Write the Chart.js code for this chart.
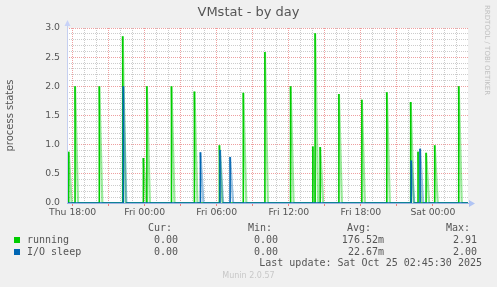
<!DOCTYPE html>
<html>
<head>
<meta charset="utf-8">
<script src="https://cdn.jsdelivr.net/npm/chart.js@4/dist/chart.umd.min.js"></script>
<style>
  body { margin: 0; background: #f0f0f0; }
  #wrap { position: relative; width: 497px; height: 287px; overflow: hidden; }
  canvas { position: absolute; left: 0; top: 0; }
  .t { position: absolute; white-space: pre; font-family: "DejaVu Sans Mono", monospace; font-size: 10px; line-height: 12px; color: #555; }
  .sq { position: absolute; width: 6px; height: 6px; }
  #title { position: absolute; left: 0; width: 497px; top: 4px; text-align: center; font-family: "DejaVu Sans", sans-serif; font-size: 13px; color: #555; }
  #rrd { position: absolute; left: 483px; top: 5px; writing-mode: vertical-rl; font-family: "DejaVu Sans", sans-serif; font-size: 7px; color: #c0c0c0; }
  #munin { position: absolute; left: 0; width: 497px; top: 271px; text-align: center; font-family: "DejaVu Sans", sans-serif; font-size: 8px; color: #c8c8c8; }
</style>
</head>
<body>
<div id="wrap">
  <canvas id="chart" width="497" height="287"></canvas>
  <div id="title">VMstat - by day</div>
  <div id="rrd">RRDTOOL / TOBI OETIKER</div>

  <div class="t" style="right:325px;top:222px">Cur:</div>
  <div class="t" style="right:225px;top:222px">Min:</div>
  <div class="t" style="right:126px;top:222px">Avg:</div>
  <div class="t" style="right:27px;top:222px">Max:</div>

  <div class="sq" style="left:14px;top:237px;background:#00cc00"></div>
  <div class="t" style="left:27px;top:234px">running</div>
  <div class="t" style="right:319px;top:234px">0.00</div>
  <div class="t" style="right:219px;top:234px">0.00</div>
  <div class="t" style="right:113px;top:234px">176.52m</div>
  <div class="t" style="right:20px;top:234px">2.91</div>

  <div class="sq" style="left:14px;top:249px;background:#0066b3"></div>
  <div class="t" style="left:27px;top:246px">I/O sleep</div>
  <div class="t" style="right:319px;top:246px">0.00</div>
  <div class="t" style="right:219px;top:246px">0.00</div>
  <div class="t" style="right:113px;top:246px">22.67m</div>
  <div class="t" style="right:20px;top:246px">2.00</div>

  <div class="t" style="right:15px;top:257px">Last update: Sat Oct 25 02:45:30 2025</div>
  <div id="munin">Munin 2.0.57</div>
</div>
<script>
// hours since Thu 18:00
const xMin = -0.47;
const xMax = 32.92;
const hourTicks = [0, 1, 2, 3, 4, 5, 6, 7, 8, 9, 10, 11, 12, 13, 14, 15, 16,
  17, 18, 19, 20, 21, 22, 23, 24, 25, 26, 27, 28, 29, 30, 31, 32];
const tickLabels = { 0: 'Thu 18:00', 6: 'Fri 00:00', 12: 'Fri 06:00', 18: 'Fri 12:00', 24: 'Fri 18:00', 30: 'Sat 00:00' };

// spikes: start hour and peak value
const runningTimes = [-0.33, 0.20, 2.22, 4.17, 5.89, 6.18, 8.23, 10.14, 12.22, 14.21, 16.01, 18.15,
  20.00, 20.19, 20.61, 22.17, 24.08, 26.16, 28.15, 28.76, 29.43, 30.15, 32.15];
const runningPeaks = [0.88, 2.00, 2.00, 2.86, 0.77, 2.00, 2.00, 1.91, 0.99, 1.89, 2.59, 2.00,
  0.97, 2.91, 0.96, 1.87, 1.77, 1.90, 1.73, 0.88, 0.86, 0.99, 2.00];

const ioTimes = [4.22, 10.64, 12.27, 13.11, 28.19, 28.93];
const ioPeaks = [2.00, 0.87, 0.91, 0.79, 0.73, 0.93];

const FALL = 0.25;

function spikePoints(times, peaks) {
  const pts = [{ x: xMin, y: 0 }];
  times.forEach((t, i) => {
    const next = i + 1 < times.length ? times[i + 1] : xMax;
    pts.push({ x: t, y: 0 }, { x: t, y: peaks[i] }, { x: Math.min(t + FALL, next), y: 0 });
  });
  pts.push({ x: xMax, y: 0 });
  return pts;
}

function seg(solid, light) {
  return {
    borderColor: c => c.p1.parsed.y < c.p0.parsed.y ? light : solid,
    borderWidth: c => c.p1.parsed.y < c.p0.parsed.y ? 2.2 : 1.6,
  };
}

const chartBg = {
  id: 'chartBg',
  beforeDraw(chart) {
    const { ctx, chartArea: a } = chart;
    ctx.save();
    ctx.fillStyle = '#ffffff';
    ctx.fillRect(a.left, a.top, a.right - a.left, a.bottom - a.top);
    ctx.restore();
  },
  afterDatasetsDraw(chart) {
    const { ctx, chartArea: a } = chart;
    ctx.save();
    // y axis
    ctx.strokeStyle = '#c5cff0';
    ctx.lineWidth = 1;
    ctx.beginPath();
    ctx.moveTo(a.left + 0.5, a.bottom);
    ctx.lineTo(a.left + 0.5, a.top - 4);
    ctx.stroke();
    ctx.fillStyle = '#c8d2f8';
    ctx.beginPath();
    ctx.moveTo(a.left - 2.5, a.top - 2);
    ctx.lineTo(a.left + 0.5, a.top - 8);
    ctx.lineTo(a.left + 3.5, a.top - 2);
    ctx.fill();
    // x axis
    ctx.strokeStyle = '#9db4e3';
    ctx.beginPath();
    ctx.moveTo(a.left, a.bottom + 0.5);
    ctx.lineTo(a.right + 2, a.bottom + 0.5);
    ctx.stroke();
    ctx.fillStyle = '#b0c4f4';
    ctx.beginPath();
    ctx.moveTo(a.right + 1, a.bottom - 3);
    ctx.lineTo(a.right + 7, a.bottom + 0.5);
    ctx.lineTo(a.right + 1, a.bottom + 4);
    ctx.fill();
    ctx.restore();
  }
};

new Chart(document.getElementById('chart'), {
  type: 'line',
  data: {
    datasets: [
      {
        label: 'running',
        data: spikePoints(runningTimes, runningPeaks),
        borderColor: '#00cc00',
        segment: seg('#00cc00', 'rgba(0,204,0,0.4)'),
        order: 2,
      },
      {
        label: 'I/O sleep',
        data: spikePoints(ioTimes, ioPeaks),
        borderColor: '#0066b3',
        segment: seg('#0066b3', 'rgba(0,102,179,0.4)'),
        order: 1,
      },
    ],
  },
  options: {
    responsive: false,
    animation: false,
    parsing: false,
    layout: { padding: { left: 0, top: 28, right: 29, bottom: 69 } },
    elements: {
      point: { radius: 0 },
      line: { tension: 0, borderJoinStyle: 'bevel', fill: false },
    },
    plugins: { legend: { display: false }, tooltip: { enabled: false }, title: { display: false } },
    scales: {
      x: {
        type: 'linear',
        min: xMin,
        max: xMax,
        afterBuildTicks: s => { s.ticks = hourTicks.map(v => ({ value: v })); },
        afterFit: s => { s.height = 15; },
        border: { display: false, dash: [1, 1] },
        grid: {
          color: c => c.tick && c.tick.value % 3 === 0 ? '#eea0a0' : '#cccccc',
          tickColor: c => c.tick && c.tick.value % 3 === 0 ? '#f08080' : 'rgba(0,0,0,0)',
          tickLength: 3,
        },
        ticks: {
          autoSkip: false,
          maxRotation: 0,
          padding: 1,
          color: '#555',
          font: { family: 'DejaVu Sans', size: 9.3 },
          callback: v => tickLabels[v] || '',
        },
      },
      y: {
        min: 0,
        max: 3,
        afterBuildTicks: s => {
          const t = [];
          for (let i = 0; i <= 30; i++) t.push({ value: i / 10 });
          s.ticks = t;
        },
        afterFit: s => { s.width = 67; },
        border: { display: false, dash: [1, 1] },
        grid: {
          drawTicks: false,
          color: c => c.tick && Math.round(c.tick.value * 10) % 5 === 0 ? '#eea0a0' : '#cccccc',
        },
        ticks: {
          autoSkip: false,
          padding: 7,
          color: '#555',
          font: { family: 'DejaVu Sans', size: 9.3 },
          callback: v => Math.round(v * 10) % 5 === 0 ? v.toFixed(1) : '',
        },
        title: {
          display: true,
          text: 'process states',
          color: '#555',
          font: { family: 'DejaVu Sans', size: 10 },
          padding: { top: 4, bottom: 0 },
        },
      },
    },
  },
  plugins: [chartBg],
});
</script>
</body>
</html>
